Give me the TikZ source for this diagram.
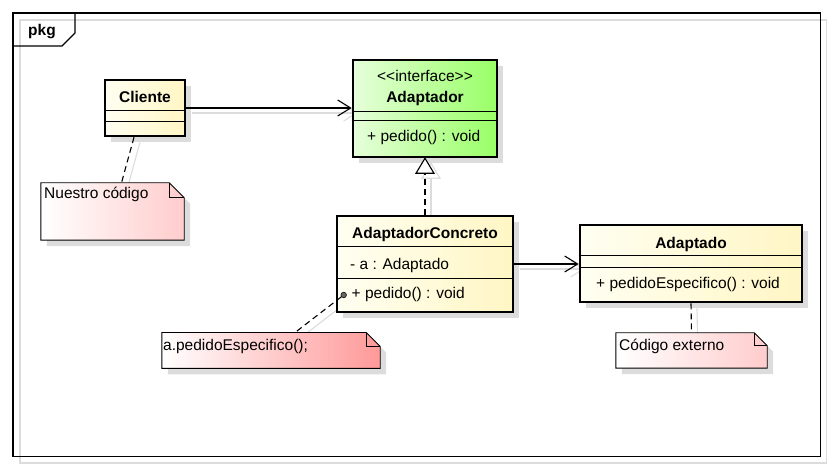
\documentclass[tikz,border=0pt]{standalone}
\usepackage{fontspec}
\setmainfont{Liberation Sans}
\usetikzlibrary{arrows.meta,shadows,calc,backgrounds}
\definecolor{shadowgray}{HTML}{DCDCDC}
\definecolor{clsA}{HTML}{FFFFF2}
\definecolor{clsB}{HTML}{FFF6C4}
\definecolor{grnA}{HTML}{E6FFDA}
\definecolor{grnB}{HTML}{99FF66}
\definecolor{pinkB}{HTML}{FFCCCC}
\definecolor{redB}{HTML}{FF9999}
\newcommand\notebox[3]{%
 \fill[shadowgray] ($(#1.north west)+(6,6)$) -- ($(#1.north east)+(6-#2,6)$) -- ($(#1.north east)+(6,6+#2)$) -- ($(#1.south east)+(6,6)$) -- ($(#1.south west)+(6,6)$) -- cycle;
 \shadedraw[left color=white,right color=#3,draw=black,line width=0.9pt] (#1.north west) -- ($(#1.north east)+(-#2,0)$) -- ($(#1.north east)+(0,#2)$) -- (#1.south east) -- (#1.south west) -- cycle;
 \draw[line width=0.9pt] ($(#1.north east)+(-#2,0)$) -- ($(#1.north east)+(-#2,#2)$) -- ($(#1.north east)+(0,#2)$);
}
\tikzset{
 cls/.style={draw, line width=2.6pt, inner sep=0pt, rectangle, left color=clsA, right color=clsB,
   drop shadow={shadow xshift=6pt, shadow yshift=-6pt, fill=shadowgray, opacity=1}},
 notenode/.style={inner sep=0pt, rectangle},
 txt/.style={inner sep=0pt, anchor=base west},
 ctxt/.style={inner sep=0pt, anchor=base},
 comp/.style={line width=1pt},
 conn/.style={line width=1.1pt},
 dashln/.style={line width=1.1pt, dash pattern=on 6pt off 4pt},
 assoc/.style={conn, -{Straight Barb[length=13pt,width=16pt,line width=1.1pt]}},
 shline/.style={line width=1.1pt, draw=shadowgray, transform canvas={shift={(6pt,-5pt)}}},
}
\begin{document}
\begin{tikzpicture}[x=1pt,y=-1pt,font=\fontsize{15.5}{18}\selectfont]
\useasboundingbox (0,0) rectangle (833,470);
% frame
\draw[shadowgray, line width=1.2pt] (20,20) rectangle (826.5,463);
\draw[line width=1.2pt] (13,13) rectangle (820.5,456.5);
\draw[line width=1.2pt] (13,46) -- (62,46) -- (75,33) -- (75,13);
\node[txt] (pkg) at (28,36) {\bfseries pkg};

% classes
\node[cls, minimum width=80pt, minimum height=56pt] (cli) at (145,108) {};
\draw[comp] (cli.west |- 0,110.7) -- (cli.east |- 0,110.7);
\draw[comp] (cli.west |- 0,121.7) -- (cli.east |- 0,121.7);
\node[ctxt] (cliN) at (145,103) {\bfseries Cliente};

\node[cls, left color=grnA, right color=grnB, minimum width=144pt, minimum height=97pt] (ada) at (425,108.5) {};
\draw[comp] (ada.west |- 0,111.7) -- (ada.east |- 0,111.7);
\draw[comp] (ada.west |- 0,121) -- (ada.east |- 0,121);
\node[ctxt] (adaS) at (425,81.5) {\mbox{<}\mbox{<}interface\mbox{>}\mbox{>}};
\node[ctxt] (adaN) at (425,103) {\bfseries Adaptador};
\node[txt] (adaO) at (367,142) {+ pedido() : void};

\node[cls, minimum width=176pt, minimum height=96pt] (ac) at (425,264) {};
\draw[comp] (ac.west |- 0,246.7) -- (ac.east |- 0,246.7);
\draw[comp] (ac.west |- 0,278.3) -- (ac.east |- 0,278.3);
\node[ctxt] (acN) at (425,238.5) {\bfseries AdaptadorConcreto};
\node[txt] (acA) at (350,269.5) {- a : Adaptado};
\node[txt] (acO) at (351.5,299) {+ pedido() : void};

\node[cls, minimum width=222pt, minimum height=77pt] (adp) at (691,263.5) {};
\draw[comp] (adp.west |- 0,256) -- (adp.east |- 0,256);
\draw[comp] (adp.west |- 0,267.3) -- (adp.east |- 0,267.3);
\node[ctxt] (adpN) at (691,249) {\bfseries Adaptado};
\node[txt] (adpO) at (596,289) {+ pedidoEspecifico() : void};

% notes
\node[notenode, minimum width=143pt, minimum height=57pt] (n1) at (112.5,211.5) {};
\notebox{n1}{15}{pinkB}
\node[txt] (n1t) at (44,199) {Nuestro código};

\node[notenode, minimum width=218pt, minimum height=35.5pt] (n2) at (271,350.5) {};
\notebox{n2}{14}{redB}
\node[txt] (n2t) at (163,351) {a.pedidoEspecifico();};

\node[notenode, minimum width=151pt, minimum height=35pt] (n3) at (691.5,350.5) {};
\notebox{n3}{13}{pinkB}
\node[txt] (n3t) at (619,350.5) {Código externo};

% pin circle
\node[circle, inner sep=0pt, minimum size=5.5pt, fill=black!60, draw=black!90, line width=0.7pt] (pin) at ($(ac.west)+(8,31)$) {};

% connector coordinates
\coordinate (cliB) at ($(cli.south)+(-11,0)$);
\coordinate (n1T) at ($(n1.north)+(9,0)$);
\coordinate (n2T) at ($(n2.north)+(24,0)$);

% connector shadows
\begin{scope}[on background layer]
\draw[shline] (cli.east) -- (cli.east -| ada.west);
\draw[shline, -{Straight Barb[length=13pt,width=16pt,line width=1.1pt]}] ($(cli.east -| ada.west)+(-20,0)$) -- (cli.east -| ada.west);
\draw[shline] (cliB) -- (n1T);
\draw[shline] (ac.north) -- ($(ada.south)+(0,15)$);
\draw[shline] (ada.south) -- ++(-9,15) -- ++(18,0) -- cycle;
\draw[shline] (ac.east) -- (ac.east -| adp.west);
\draw[shline, -{Straight Barb[length=13pt,width=16pt,line width=1.1pt]}] ($(ac.east -| adp.west)+(-20,0)$) -- (ac.east -| adp.west);
\draw[shline] (pin) -- (n2T);
\draw[shline] (adp.south) -- (n3.north);
\end{scope}

% connectors
\draw[assoc] (cli.east) -- (cli.east -| ada.west);
\draw[dashln] (cliB) -- (n1T);
\draw[dashln] (ac.north) -- ($(ada.south)+(0,15)$);
\draw[conn, fill=white, line join=miter] (ada.south) -- ++(-9,15) -- ++(18,0) -- cycle;
\draw[assoc] (ac.east) -- (ac.east -| adp.west);
\draw[dashln] (pin) -- (n2T);
\draw[dashln] (adp.south) -- (n3.north);
\end{tikzpicture}
\end{document}
